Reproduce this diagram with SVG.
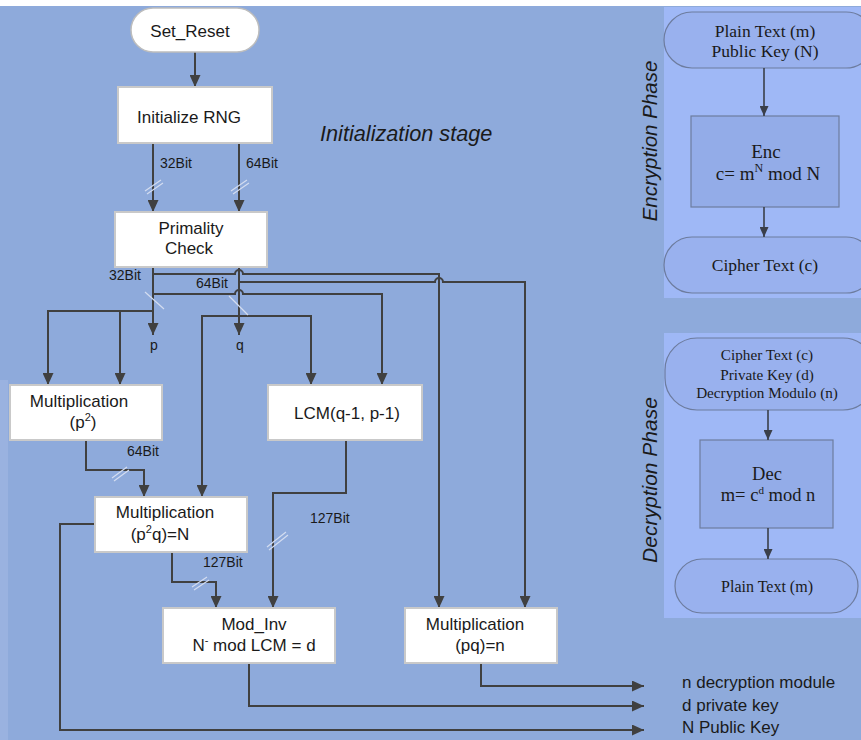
<svg xmlns="http://www.w3.org/2000/svg" width="861" height="740" viewBox="0 0 861 740">
<defs>
<marker id="ah" markerUnits="userSpaceOnUse" markerWidth="12" markerHeight="11" viewBox="0 0 12 11" refX="12" refY="5.5" orient="auto">
<path d="M0,0 L12,5.5 L0,11 z" fill="#404040"/>
</marker>
<marker id="ah2" markerUnits="userSpaceOnUse" markerWidth="10" markerHeight="9" viewBox="0 0 10 9" refX="10" refY="4.5" orient="auto">
<path d="M0,0 L10,4.5 L0,9 z" fill="#3a3f4a"/>
</marker>
</defs>
<style>
.box{fill:#ffffff;stroke:#c9c9c9;stroke-width:2}
.term{fill:#ffffff;stroke:#bdbdbd;stroke-width:1.5}
.t{font-family:"Liberation Sans",Arial,sans-serif;font-size:17px;fill:#1a1a1a;text-anchor:middle}
.lb{font-family:"Liberation Sans",Arial,sans-serif;font-size:14px;fill:#1a1a1a}
.out{font-family:"Liberation Sans",Arial,sans-serif;font-size:17px;fill:#1a1a1a}
.it{font-family:"Liberation Sans",Arial,sans-serif;font-style:italic;fill:#1a1a1a}
.c{fill:none;stroke:#404040;stroke-width:2}
.bus{stroke:#d4ddf0;stroke-width:1.2;fill:none}
.panel{fill:#9fb8f6}
.pt{fill:#99b1ee;stroke:#6d7c9e;stroke-width:1.2}
.pb{fill:#93ace8;stroke:#6d7c9e;stroke-width:1.2}
.s{font-family:"Liberation Serif","Times New Roman",serif;fill:#1a1a1a;text-anchor:middle}
.pc{fill:none;stroke:#3a3f4a;stroke-width:1.6}
</style>
<rect x="0" y="0" width="861" height="740" fill="#ffffff"/>
<rect x="0" y="6" width="861" height="734" fill="#8eaadb"/>
<rect x="0" y="380" width="8" height="360" fill="#9ab2e0"/>

<text class="it" x="320" y="141" font-size="21.7">Initialization stage</text>

<g id="connectors">
<path class="c" d="M195 52 V87" marker-end="url(#ah)"/>
<path class="c" d="M153 143 V212" marker-end="url(#ah)"/>
<path class="c" d="M239 143 V212" marker-end="url(#ah)"/>
<path class="c" d="M153 267 V335" marker-end="url(#ah)"/>
<path class="c" d="M239 267 V335" marker-end="url(#ah)"/>
<path class="c" d="M153 274 H235 a4 4 0 0 1 8 0 H439 V608" marker-end="url(#ah)"/>
<path class="c" d="M239 282 H435 a4 4 0 0 1 8 0 H525 V608" marker-end="url(#ah)"/>
<path class="c" d="M153 294 H235 a4 4 0 0 1 8 0 H382 V385" marker-end="url(#ah)"/>
<path class="c" d="M239 316 H202 V497" marker-end="url(#ah)"/>
<path class="c" d="M239 316 H311 V385" marker-end="url(#ah)"/>
<path class="c" d="M153 311 H48 V385" marker-end="url(#ah)"/>
<path class="c" d="M120 311 V385" marker-end="url(#ah)"/>
<path class="c" d="M86 440 V470 H144 V497" marker-end="url(#ah)"/>
<path class="c" d="M172 552 V582 H216 V608" marker-end="url(#ah)"/>
<path class="c" d="M346 440 V493 H273 V608" marker-end="url(#ah)"/>
<path class="c" d="M95 524 H60 V730 H644" marker-end="url(#ah)"/>
<path class="c" d="M249 663 V706 H644" marker-end="url(#ah)"/>
<path class="c" d="M481 663 V686 H644" marker-end="url(#ah)"/>
<!-- bus width marks -->
<path class="bus" d="M145 191 L161 180 M147 194 L163 183"/>
<path class="bus" d="M231 191 L247 180 M233 194 L249 183"/>
<path class="bus" d="M145 292 L164 309"/>
<path class="bus" d="M229 296 L248 315"/>
<path class="bus" d="M112 478 L127 467 M114 481 L129 470"/>
<path class="bus" d="M267 547 L286 532 M269 550 L288 535"/>
<path class="bus" d="M192 587 L207 577 M194 590 L209 580"/>
</g>

<text class="lb" x="160" y="168">32Bit</text>
<text class="lb" x="246" y="168">64Bit</text>
<text class="lb" x="109" y="280">32Bit</text>
<text class="lb" x="196" y="288">64Bit</text>
<text class="lb" x="150" y="350">p</text>
<text class="lb" x="236" y="350">q</text>
<text class="lb" x="127" y="456">64Bit</text>
<text class="lb" x="203" y="567">127Bit</text>
<text class="lb" x="310" y="523">127Bit</text>

<g id="set_reset">
<rect class="term" x="131" y="8" width="128" height="44" rx="22"/>
<text class="t" x="190" y="37">Set_Reset</text>
</g>
<g id="init_rng">
<rect class="box" x="118" y="87" width="154" height="56"/>
<text class="t" x="189" y="123">Initialize RNG</text>
</g>
<g id="primality">
<rect class="box" x="115" y="212" width="152" height="55"/>
<text class="t" x="191" y="234">Primality</text>
<text class="t" x="189" y="254">Check</text>
</g>
<g id="mult_p2">
<rect class="box" x="10" y="385" width="152" height="55"/>
<text class="t" x="79" y="407">Multiplication</text>
<text class="t" x="83" y="428">(p<tspan font-size="11" dy="-7">2</tspan><tspan dy="7">)</tspan></text>
</g>
<g id="lcm">
<rect class="box" x="268" y="385" width="154" height="55"/>
<text class="t" x="347" y="419">LCM(q-1, p-1)</text>
</g>
<g id="mult_p2q">
<rect class="box" x="95" y="497" width="152" height="55"/>
<text class="t" x="165" y="518">Multiplication</text>
<text class="t" x="160" y="540">(p<tspan font-size="11" dy="-7">2</tspan><tspan dy="7">q)=N</tspan></text>
</g>
<g id="mod_inv">
<rect class="box" x="163" y="608" width="172" height="55"/>
<text class="t" x="254" y="630">Mod_Inv</text>
<text class="t" x="254" y="651">N<tspan font-size="11" dy="-7">-</tspan><tspan dy="7"> mod LCM = d</tspan></text>
</g>
<g id="mult_pq">
<rect class="box" x="405" y="608" width="152" height="55"/>
<text class="t" x="475" y="630">Multiplication</text>
<text class="t" x="480" y="651">(pq)=n</text>
</g>

<text class="out" x="682" y="688">n decryption module</text>
<text class="out" x="682" y="711">d private key</text>
<text class="out" x="682" y="733">N Public Key</text>

<g id="enc_panel">
<rect class="panel" x="664" y="7" width="197" height="291"/>
<text class="it" font-size="20.5" text-anchor="middle" transform="translate(657,141) rotate(-90)">Encryption Phase</text>
</g>
<g id="enc_input">
<rect class="pt" x="664" y="12" width="210" height="56" rx="28"/>
<text class="s" font-size="17.5" x="765" y="37">Plain Text (m)</text>
<text class="s" font-size="17.5" x="765" y="57">Public Key (N)</text>
</g>
<g id="enc_box">
<rect class="pb" x="691" y="116" width="148" height="91"/>
<text class="s" font-size="19" x="766" y="158">Enc</text>
<text class="s" font-size="19" x="768" y="180">c= m<tspan font-size="12" dy="-8">N</tspan><tspan dy="8"> mod N</tspan></text>
</g>
<g id="enc_output">
<rect class="pt" x="664" y="237" width="210" height="56" rx="28"/>
<text class="s" font-size="17.5" x="765" y="271">Cipher Text (c)</text>
</g>

<g id="dec_panel">
<rect class="panel" x="664" y="333" width="197" height="285"/>
<text class="it" font-size="21" text-anchor="middle" transform="translate(657,480) rotate(-90)">Decryption Phase</text>
</g>
<g id="dec_input">
<rect class="pt" x="665" y="338" width="210" height="72" rx="32"/>
<text class="s" font-size="15.2" x="767" y="360">Cipher Text (c)</text>
<text class="s" font-size="15.2" x="767" y="380">Private Key (d)</text>
<text class="s" font-size="15.2" x="767" y="398">Decryption Modulo (n)</text>
</g>
<g id="dec_box">
<rect class="pb" x="700" y="440" width="133" height="88"/>
<text class="s" font-size="18.5" x="767" y="480">Dec</text>
<text class="s" font-size="18.5" x="768" y="501">m= c<tspan font-size="11" dy="-7">d</tspan><tspan dy="7"> mod n</tspan></text>
</g>
<g id="dec_output">
<rect class="pt" x="675" y="559" width="183" height="54" rx="27"/>
<text class="s" font-size="16" x="767" y="592">Plain Text (m)</text>
</g>

<g id="panel_connectors">
<path class="pc" d="M764 68 V116" marker-end="url(#ah2)"/>
<path class="pc" d="M764 207 V237" marker-end="url(#ah2)"/>
<path class="pc" d="M768 410 V440" marker-end="url(#ah2)"/>
<path class="pc" d="M768 528 V559" marker-end="url(#ah2)"/>
</g>
</svg>
